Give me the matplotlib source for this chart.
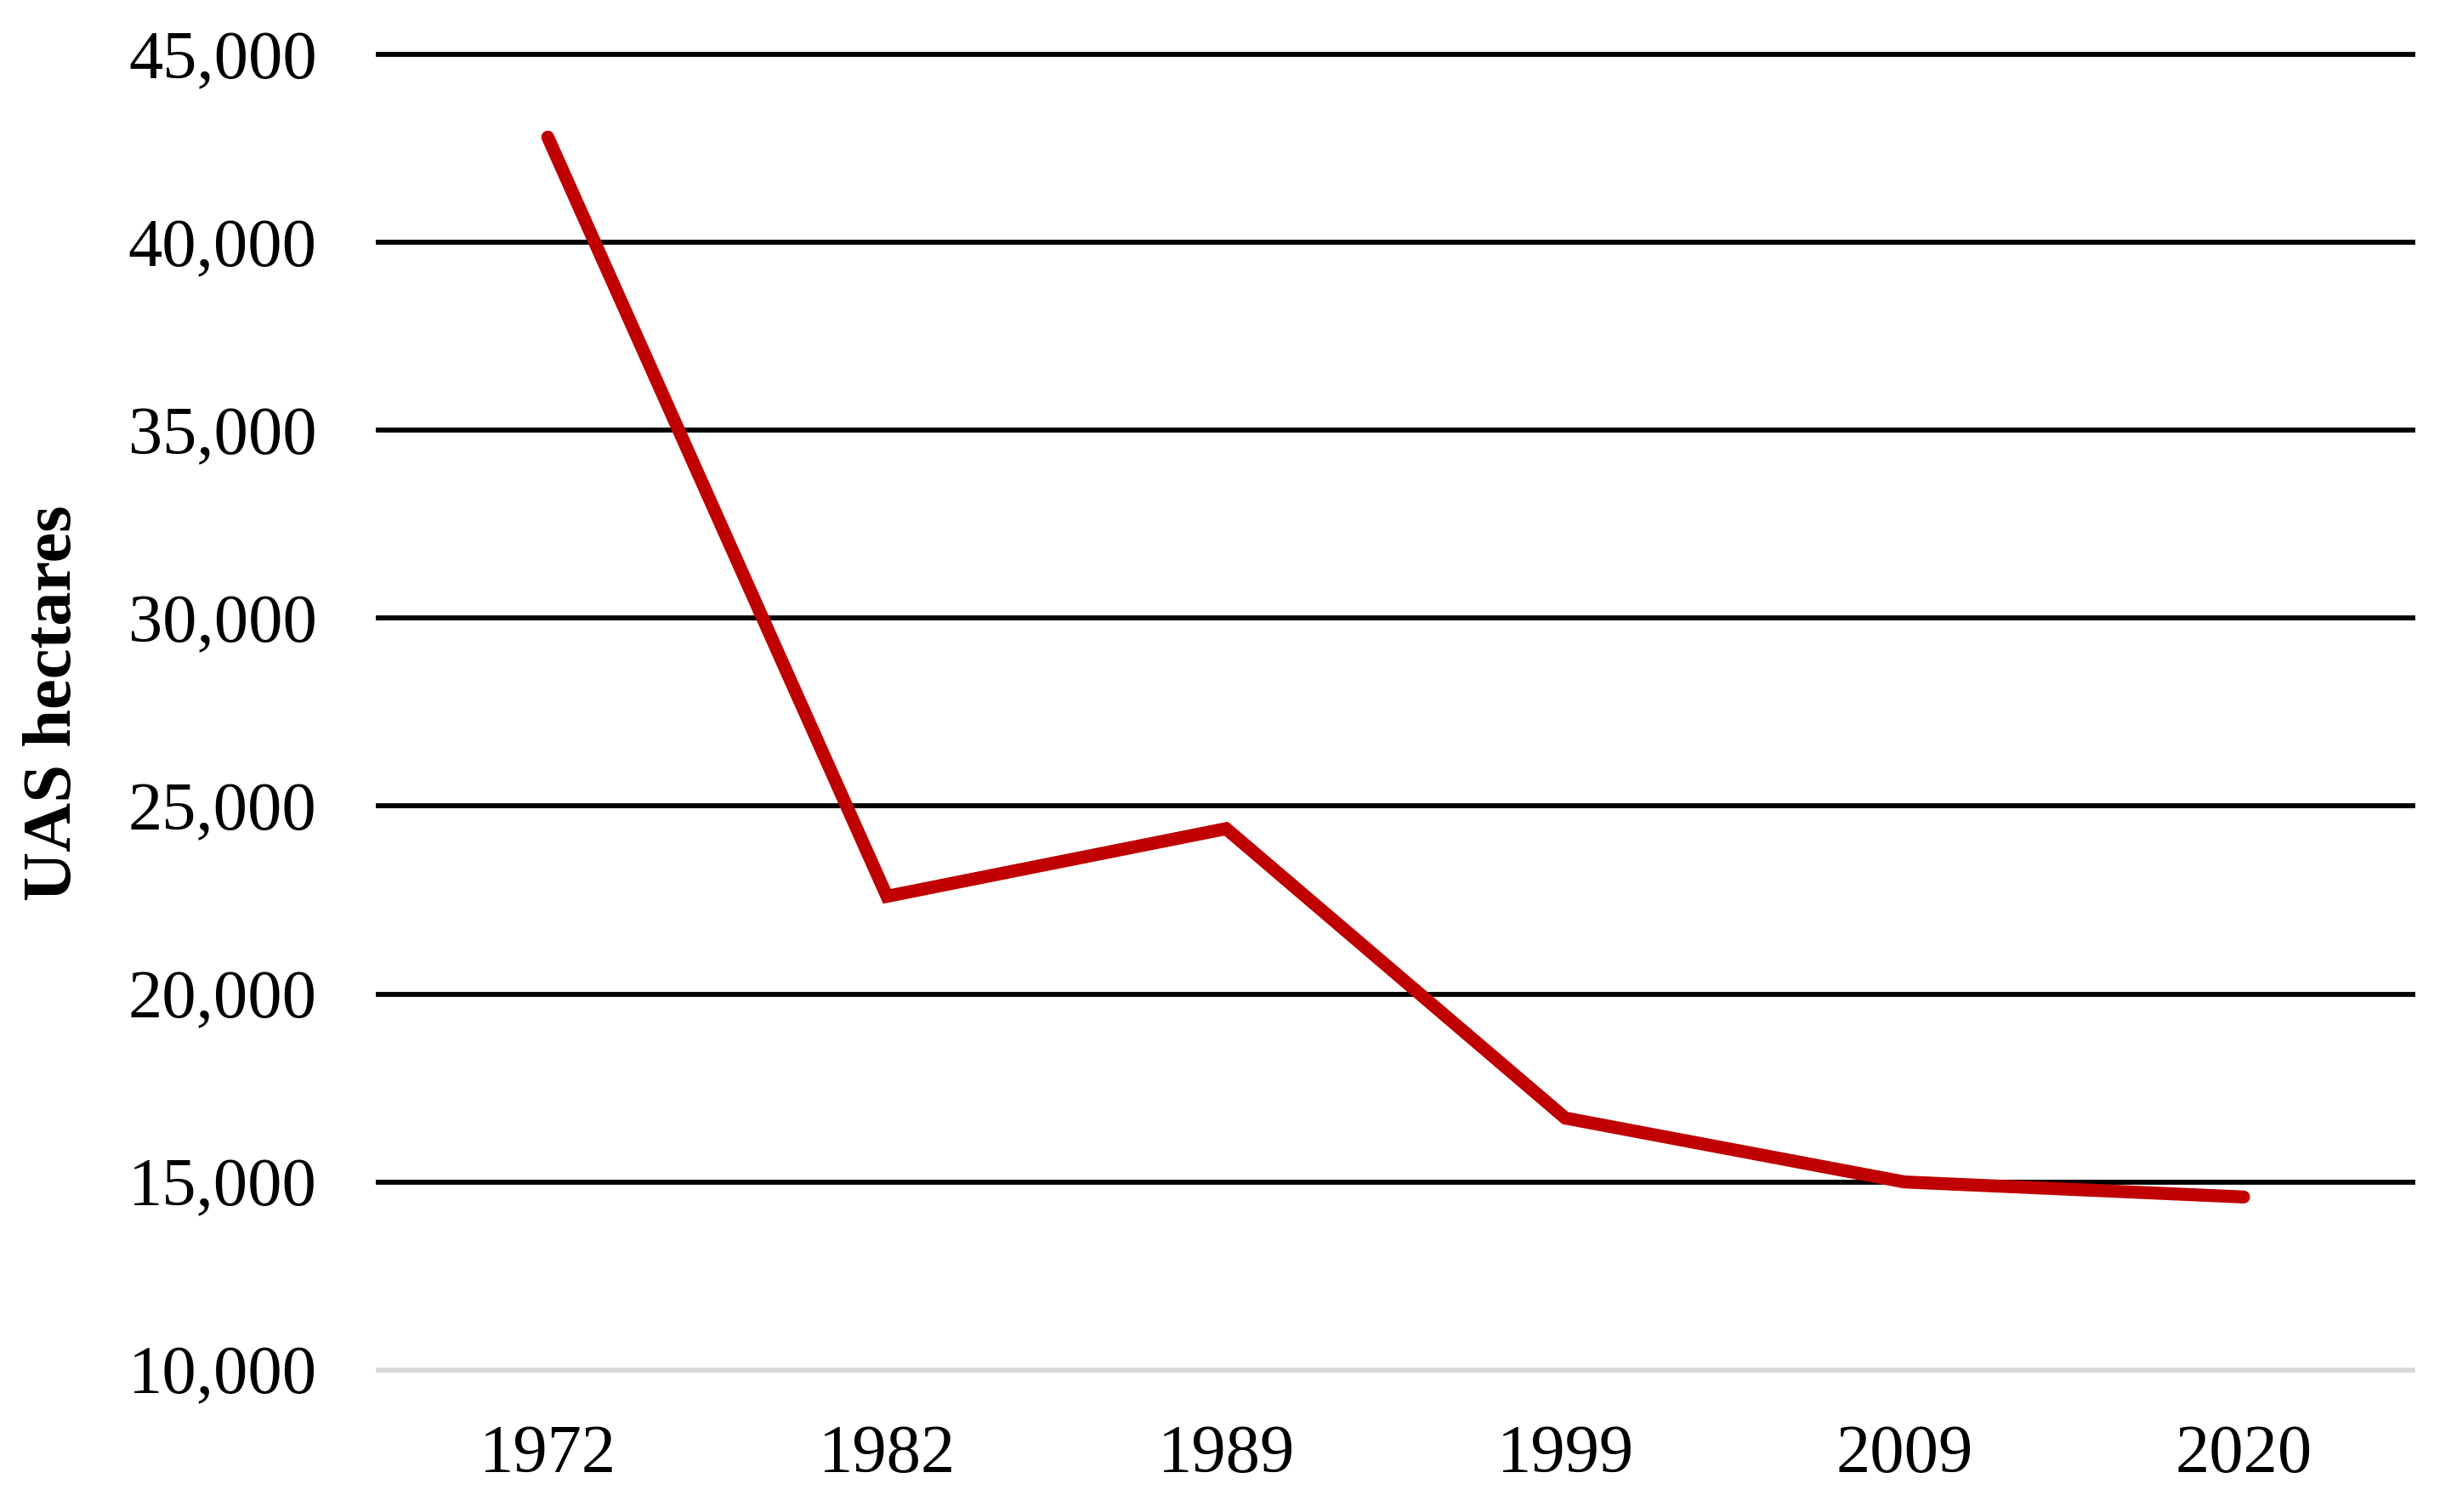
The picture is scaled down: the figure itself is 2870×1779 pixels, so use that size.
import matplotlib.pyplot as plt
from matplotlib.ticker import FuncFormatter

years = ["1972", "1982", "1989", "1999", "2009", "2020"]
uas_hectares = [42800, 22600, 24400, 16700, 15000, 14600]
y_ticks = [10000, 15000, 20000, 25000, 30000, 35000, 40000, 45000]

plt.rcParams['font.family'] = ['Liberation Serif', 'DejaVu Serif']

fig = plt.figure(figsize=(28.7, 17.79), dpi=100)
ax = fig.add_axes([0.155, 0.094, 0.834, 0.870])

# grid lines drawn by hand so the top one is not clipped
for t in y_ticks[1:]:
    ax.axhline(t, color='black', lw=4.2, zorder=1, clip_on=False)
ax.axhline(y_ticks[0], color='#D9D9D9', lw=4.2, zorder=1, clip_on=False)

x = [i + 0.5 for i in range(len(years))]
ax.plot(x, uas_hectares, color='#C00000', lw=11, solid_capstyle='round',
        solid_joinstyle='miter', zorder=3)

ax.set_xlim(0, len(years))
ax.set_ylim(y_ticks[0], y_ticks[-1])
ax.set_xticks(x)
ax.set_xticklabels(years)
ax.set_yticks(y_ticks)
ax.yaxis.set_major_formatter(FuncFormatter(lambda v, p: f"{int(v):,}"))
ax.tick_params(axis='both', length=0, labelsize=58)
ax.tick_params(axis='y', pad=52)
ax.tick_params(axis='x', pad=46)
for s in ax.spines.values():
    s.set_visible(False)

fig.text(64 / 2870, 0.535, "UAS hectares", rotation=90, ha='center',
         va='center', fontsize=58, fontweight='bold')

fig.savefig("out.png", dpi=100)
